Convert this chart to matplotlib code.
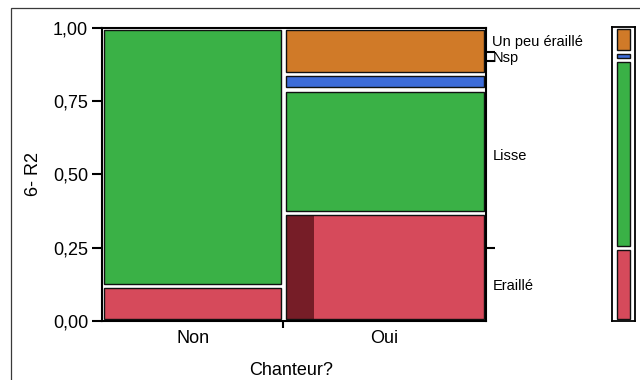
import numpy as np
import matplotlib
matplotlib.use("Agg")
import matplotlib.pyplot as plt
from matplotlib.patches import Rectangle

plt.rcParams["font.family"] = ["Liberation Sans", "DejaVu Sans"]

# counts per group, levels stacked from the bottom
GROUPS = ["Non", "Oui"]
LEVELS = ["Eraillé", "Lisse", "Nsp", "Un peu éraillé"]
COUNTS_NON = [2, 15, 0, 0]
COUNTS_OUI = [7, 8, 1, 3]
SELECTED_OUI = [1, 0, 0, 0]   # highlighted rows inside the Oui column
COLORS = ["#d64a5b", "#3ab146", "#3d6cd9", "#d07a28"]
DARK_RED = "#761d27"
Y_TICKS = [0, 0.25, 0.5, 0.75, 1.0]
Y_TICKLABELS = ["0,00", "0,25", "0,50", "0,75", "1,00"]

W, H = 640, 380
fig = plt.figure(figsize=(W / 100, H / 100), dpi=100)

# outer frame (only left/top edges fall inside the picture)
fig.add_artist(Rectangle((11 / W, -0.2), 1.5, 1.2 - 8 / H, transform=fig.transFigure,
                         fill=False, ec="#3a3a3a", lw=0.9))

ax_l, ax_r, ax_t, ax_b = 102, 486, 28, 320.7
ax = fig.add_axes([ax_l / W, 1 - ax_b / H, (ax_r - ax_l) / W, (ax_b - ax_t) / H])
ax.set_xlim(0, 1)
ax.set_ylim(0, 1)
px = 1 / (ax_r - ax_l)
py = 1 / (ax_b - ax_t)


def cell(a, x0, x1, y0, y1, color, ix, iy, sel_frac=0.0):
    x0, x1, y0, y1 = x0 + ix, x1 - ix, y0 + iy, y1 - iy
    a.add_patch(Rectangle((x0, y0), x1 - x0, y1 - y0, fc=color, ec="none"))
    if sel_frac > 0:
        a.add_patch(Rectangle((x0, y0), (x1 - x0) * sel_frac, y1 - y0, fc=DARK_RED, ec="none"))
    a.add_patch(Rectangle((x0, y0), x1 - x0, y1 - y0, fill=False, ec="#111111", lw=1.0))


counts = [np.array(COUNTS_NON), np.array(COUNTS_OUI)]
selected = [np.zeros(4), np.array(SELECTED_OUI)]
n_group = np.array([c.sum() for c in counts])
widths = n_group / n_group.sum()
edges = np.concatenate([[0], np.cumsum(widths)])

for g, c in enumerate(counts):
    props = c / c.sum()
    bottoms = np.concatenate([[0], np.cumsum(props)])
    for k in range(len(LEVELS)):
        if c[k] == 0:
            continue
        frac = selected[g][k] / c[k]
        cell(ax, edges[g], edges[g + 1], bottoms[k], bottoms[k + 1], COLORS[k],
             2.4 * px, 2.2 * py, frac)

for s in ax.spines.values():
    s.set_linewidth(1.5)

ax.set_yticks(Y_TICKS)
ax.set_yticklabels(Y_TICKLABELS, fontsize=13)
ax.tick_params(axis="y", length=7, width=1.5, pad=3)

centers = (edges[:-1] + edges[1:]) / 2
ax.set_xticks(centers)
ax.set_xticklabels(GROUPS, fontsize=13)
ax.set_xticks(edges[1:-1], minor=True)
ax.tick_params(axis="x", which="major", length=0, pad=7)
ax.tick_params(axis="x", which="minor", length=5, width=1.5)

ax.set_ylabel("6- R2", fontsize=13)
ax.yaxis.set_label_coords(-0.155, 0.5)
ax.set_xlabel("Chanteur?", fontsize=13)
ax.xaxis.set_label_coords(0.4935, -0.142)

# right-hand level labels from the overall margin
total = np.array(COUNTS_NON) + np.array(COUNTS_OUI)
marg = total / total.sum()
mbounds = np.concatenate([[0], np.cumsum(marg)])
mids = (mbounds[:-1] + mbounds[1:]) / 2

ax2 = ax.twinx()
ax2.set_ylim(0, 1)
ax2.set_yticks(mids)
ax2.set_yticklabels(LEVELS, fontsize=10.5)
ax2.set_yticks(mbounds[1:-1], minor=True)
ax2.tick_params(axis="y", which="major", length=0, pad=4.5)
ax2.tick_params(axis="y", which="minor", length=6.5, width=1.5)
for s in ax2.spines.values():
    s.set_visible(False)

# marginal bar on the far right
m_l, m_r, m_t, m_b = 612.3, 635, 27.3, 321
axm = fig.add_axes([m_l / W, 1 - m_b / H, (m_r - m_l) / W, (m_b - m_t) / H])
axm.set_xlim(0, 1)
axm.set_ylim(0, 1)
mpx = 1 / (m_r - m_l)
mpy = 1 / (m_b - m_t)
for k in range(len(LEVELS)):
    cell(axm, 0, 1, mbounds[k], mbounds[k + 1], COLORS[k], 5 * mpx, 2 * mpy)
axm.set_xticks([])
axm.set_yticks([])
for s in axm.spines.values():
    s.set_linewidth(1.3)

fig.savefig("out.png", dpi=100)
